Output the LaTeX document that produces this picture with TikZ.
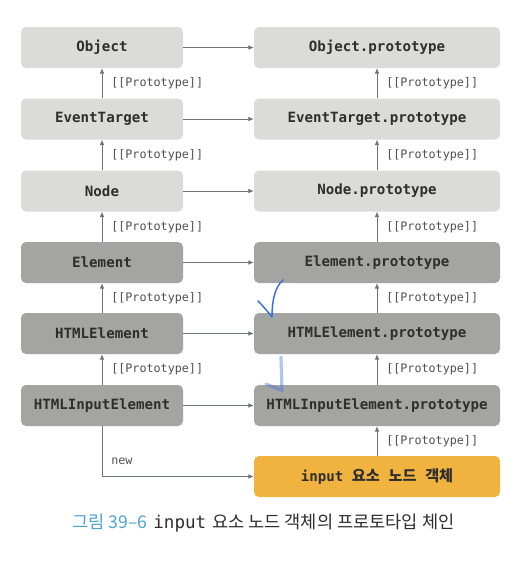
\documentclass[tikz,border=0pt]{standalone}
\usepackage{fontspec}
\usetikzlibrary{arrows.meta}
\setmonofont{DejaVu Sans Mono}
\newfontfamily\krfont{Noto Sans CJK KR}
\newfontfamily\krlight{Noto Sans CJK KR}
\definecolor{boxlight}{HTML}{DBDBD8}
\definecolor{boxdark}{HTML}{A4A4A3}
\definecolor{boxorange}{HTML}{F0B33F}
\definecolor{ink}{HTML}{2E2E2E}
\definecolor{labelgray}{HTML}{505050}
\definecolor{arrowgray}{HTML}{6E7378}
\definecolor{capblue}{HTML}{4FA3D1}
\definecolor{pen}{HTML}{3A6FE0}
\tikzset{
  box/.style={rounded corners=3.75pt, minimum height=30.75pt, inner sep=0pt,
    font=\ttfamily\bfseries\fontsize{10.6}{12}\selectfont, text=ink},
  lbox/.style={box, minimum width=121.5pt},
  rbox/.style={box, minimum width=184.5pt},
  light/.style={fill=boxlight},
  dark/.style={fill=boxdark},
  link/.style={draw=arrowgray, line width=0.6pt, -{Latex[length=4pt,width=3.5pt]}},
  protolabel/.style={anchor=west, inner sep=0pt, text=labelgray,
    font=\ttfamily\fontsize{8.8}{10}\selectfont},
  penstroke/.style={draw=pen, line width=1.1pt, line cap=round, line join=round}
}
\newcommand{\krbox}[1]{{\krfont\bfseries\fontsize{11.4}{12}\selectfont #1}}
\begin{document}
\begin{tikzpicture}[x=0.75pt,y=-0.75pt]
\useasboundingbox (0,0) rectangle (529,561);
\fill[white] (0,0) rectangle (529,561);

% constructor column
\node[lbox,light] (obj)   at (102,47.5)  {Object};
\node[lbox,light] (evt)   at (102,119)   {EventTarget};
\node[lbox,light] (nod)   at (102,191)   {Node};
\node[lbox,dark]  (elm)   at (102,262.5) {Element};
\node[lbox,dark]  (html)  at (102,333.5) {HTMLElement};
\node[lbox,dark]  (inp)   at (102,405.5) {HTMLInputElement};

% prototype column
\node[rbox,light] (objp)  at (377,47.5)  {Object.prototype};
\node[rbox,light] (evtp)  at (377,119)   {EventTarget.prototype};
\node[rbox,light] (nodp)  at (377,191)   {Node.prototype};
\node[rbox,dark]  (elmp)  at (377,262.5) {Element.prototype};
\node[rbox,dark]  (htmlp) at (377,333.5) {HTMLElement.prototype};
\node[rbox,dark]  (inpp)  at (377,405.5) {HTMLInputElement.prototype};
\node[rbox,fill=boxorange] (obj1) at (377,476.5)
  {input\hspace{6.5pt}\krbox{요소}\hspace{6.5pt}\krbox{노드}\hspace{6.5pt}\krbox{객체}};

% constructor -> prototype
\foreach \a/\b in {obj/objp,evt/evtp,nod/nodp,elm/elmp,html/htmlp,inp/inpp}
  \draw[link] (\a.east) -- (\b.west);

% [[Prototype]] links
\foreach \a/\b in {evt/obj,nod/evt,elm/nod,html/elm,inp/html,
                   evtp/objp,nodp/evtp,elmp/nodp,htmlp/elmp,inpp/htmlp,obj1/inpp}
  \draw[link] (\a.north) -- (\b.south);

\node[protolabel] (l1) at (111,83.5)  {[[Prototype]]};
\node[protolabel] (l2) at (111,155)   {[[Prototype]]};
\node[protolabel] (l3) at (111,227)   {[[Prototype]]};
\node[protolabel] (l4) at (111,298)   {[[Prototype]]};
\node[protolabel] (l5) at (111,369.5) {[[Prototype]]};
\node[protolabel] (r1) at (386,83.5)  {[[Prototype]]};
\node[protolabel] (r2) at (386,155)   {[[Prototype]]};
\node[protolabel] (r3) at (386,227)   {[[Prototype]]};
\node[protolabel] (r4) at (386,298)   {[[Prototype]]};
\node[protolabel] (r5) at (386,369.5) {[[Prototype]]};
\node[protolabel] (r6) at (386,441)   {[[Prototype]]};

% instance creation
\draw[link] (inp.south) |- (obj1.west);
\node[protolabel] (nw) at (111,461) {new};

% pen marks
\draw[penstroke] (258,301) .. controls (264,307) and (268,312) .. (272,317)
  .. controls (272,300) and (275,287) .. (283,280);
\draw[pen, line width=2.4pt, line cap=round, opacity=0.4]
  (281,357) -- (282,391) (266,384) -- (281,390);

% caption
\node (cap) at (263.5,523) {\fontsize{13.2}{15}\selectfont
  {\krfont\color{capblue}그림 39–6} {\ttfamily\color{ink}input} {\krlight\color{ink}요소 노드 객체의 프로토타입 체인}};
\end{tikzpicture}
\end{document}
